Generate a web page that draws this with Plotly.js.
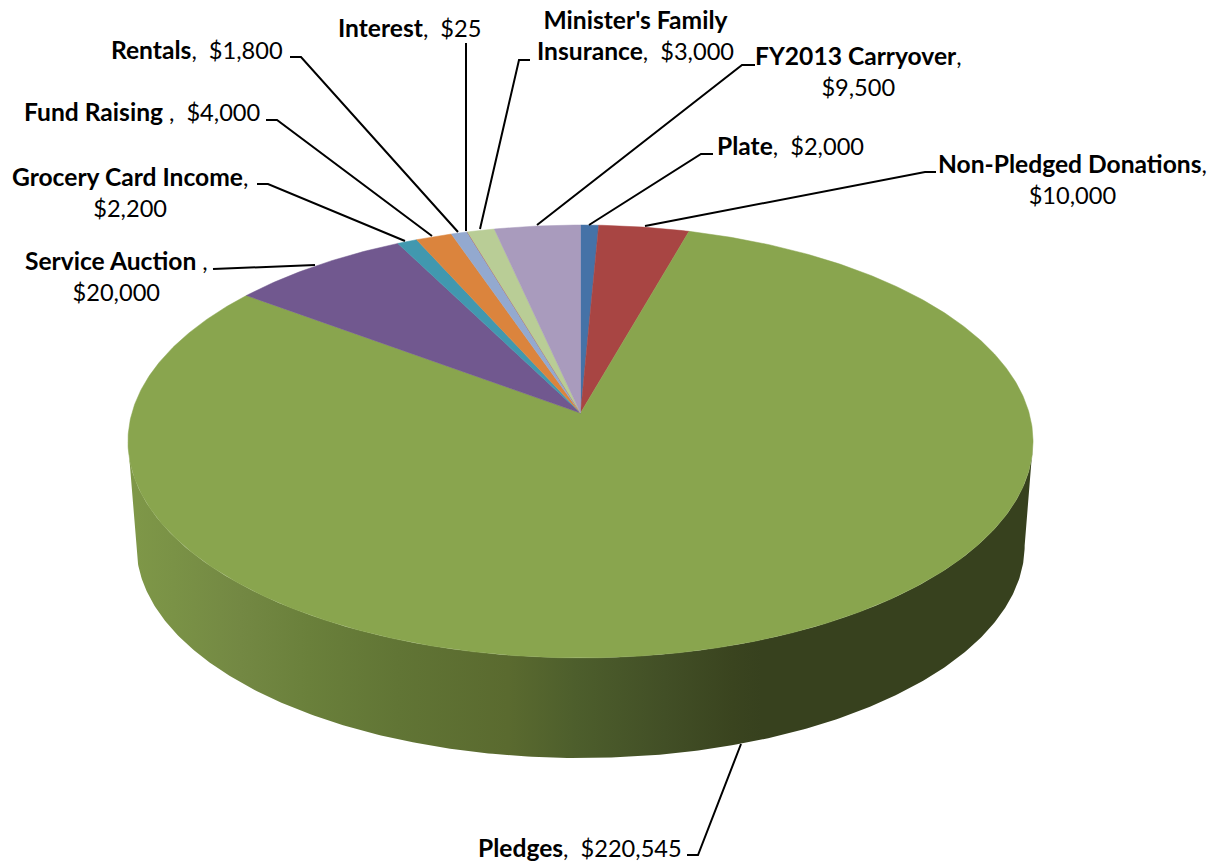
<!DOCTYPE html>
<html>
<head>
<meta charset="utf-8">
<script src="https://cdn.plot.ly/plotly-3.0.1.min.js"></script>
<style>html,body{margin:0;padding:0;background:#fff}#chart{width:1212px;height:863px}</style>
</head>
<body>
<div id="chart"></div>
<script>
// ---- data (clockwise from 12 o'clock) ----
const categories = ["Plate", "Non-Pledged Donations", "Pledges", "Service Auction ", "Grocery Card Income",
  "Fund Raising ", "Rentals", "Interest", "Minister's Family|Insurance", "FY2013 Carryover"];
const values = [2000, 10000, 220545, 20000, 2200, 4000, 1800, 25, 3000, 9500];

// ---- styles ----
const sliceColors = ["#4572A7", "#A84543", "#89A54E", "#71588F", "#4198AF", "#DB843D", "#93A9CF", "#C0504D", "#B9CD96", "#A99BBD"];
const sideStops = [[0, "#7F9848"], [0.05, "#7A9246"], [0.124, "#738843"], [0.2, "#6A803B"], [0.298, "#617535"],
  [0.42, "#5A6A2F"], [0.495, "#4D5E2C"], [0.593, "#424F26"], [0.668, "#3A441F"], [0.7, "#37411E"], [1, "#37411E"]];
const FONT = "Lato, Carlito, Calibri, sans-serif";
const NAME_SIZE = 24.6;
const VALUE_SIZE = 23.6;

// ---- layout of the projected disc, in axis units (axis = 1212 x 863) ----
const cx = 580.5, cyTop = 413, cyBottom = 517.6;
const A = 448.6, B = 212.7, A2 = 440.3, B2 = 208.8, P = 0.1316;

// label centres
const labelPos = [[790, 145], [1072, 179], [580, 847], [116, 276], [130, 192], [142, 111], [197, 49], [409, 27], [635, 35], [858, 71]];
// leader lines
const leaders = [
  "M713,154 L701,154 L589,225", "M936,172 L925,172 L645,226", "M687,855 L698,855 L741,744",
  "M213,269 L315,265", "M257,184 L268,184 L405,241", "M266,120 L277,120 L432,236",
  "M290,57 L301,57 L458,232", "M466,43 L466,231", "M530,60 L519,60 L480,229", "M755,65 L742,65 L537,225"
];
const valueOnOwnLine = [false, true, false, true, true, false, false, false, false, true];

// ---- projection ----
function rim(thetaDeg, a, b, cy) {
  const t = thetaDeg * Math.PI / 180, X = Math.sin(t), Y = Math.cos(t), w = 1 + P * Y;
  return [cx + a * X / w, cy - b * Y / w];
}
function arc(from, to, a, b, cy) {
  const n = Math.max(2, Math.ceil(Math.abs(to - from) * 2)), pts = [];
  for (let i = 0; i <= n; i++) pts.push(rim(from + (to - from) * i / n, a, b, cy));
  return pts;
}

const total = values.reduce((s, v) => s + v, 0);
const traces = [];

// side wall (front of the drum)
const tangent = Math.acos(-P) * 180 / Math.PI;
const topFront = arc(tangent, 360 - tangent, A, B, cyTop);
const botFront = arc(360 - tangent, tangent, A2, B2, cyBottom);
const wall = topFront.concat(botFront);
wall.push(wall[0]);
traces.push({
  type: "scatter", mode: "lines", name: "side", x: wall.map(p => p[0]), y: wall.map(p => p[1]),
  fill: "toself", line: {width: 0, color: "rgba(0,0,0,0)"}, hoverinfo: "skip",
  fillgradient: {type: "horizontal", start: 128, stop: 1033, colorscale: sideStops}
});

// wedges
let acc = 0;
values.forEach((v, i) => {
  const a0 = acc / total * 360, a1 = (acc + v) / total * 360;
  acc += v;
  const pts = [[cx, cyTop]].concat(arc(a0, a1, A, B, cyTop));
  pts.push([cx, cyTop]);
  traces.push({
    type: "scatter", mode: "lines", name: categories[i].replace("|", " "),
    x: pts.map(p => p[0]), y: pts.map(p => p[1]),
    fill: "toself", fillcolor: sliceColors[i], line: {width: 0.5, color: sliceColors[i]},
    hoverinfo: "name"
  });
});

const money = v => "$" + v.toLocaleString("en-US");
const bold = s => '<span style="font-size:' + NAME_SIZE + 'px"><b>' + s + "</b></span>";
const annotations = categories.map((c, i) => {
  const name = c.split("|");
  const head = name.length > 1 ? bold(name[0]) + "<br>" + bold(name[1]) : bold(c.replace(/ $/, "\u00a0"));
  const sep = valueOnOwnLine[i] ? ",<br>" : ",\u00a0\u00a0";
  return {
    x: labelPos[i][0], y: labelPos[i][1], xref: "x", yref: "y", showarrow: false,
    xanchor: "center", yanchor: "middle", align: "center",
    text: head + sep + money(values[i]),
    font: {family: FONT, size: VALUE_SIZE, color: "#000"}
  };
});

const shapes = leaders.map(d => ({type: "path", path: d, xref: "x", yref: "y", line: {color: "#000", width: 2}, layer: "above"}));

const hiddenAxis = {visible: false, showgrid: false, zeroline: false, fixedrange: true};
Plotly.newPlot("chart", traces, {
  width: 1212, height: 863, margin: {l: 0, r: 0, t: 0, b: 0}, showlegend: false,
  paper_bgcolor: "#fff", plot_bgcolor: "#fff",
  xaxis: Object.assign({range: [0, 1212]}, hiddenAxis),
  yaxis: Object.assign({range: [863, 0]}, hiddenAxis),
  annotations, shapes
}, {displayModeBar: false, responsive: false});
</script>
</body>
</html>
